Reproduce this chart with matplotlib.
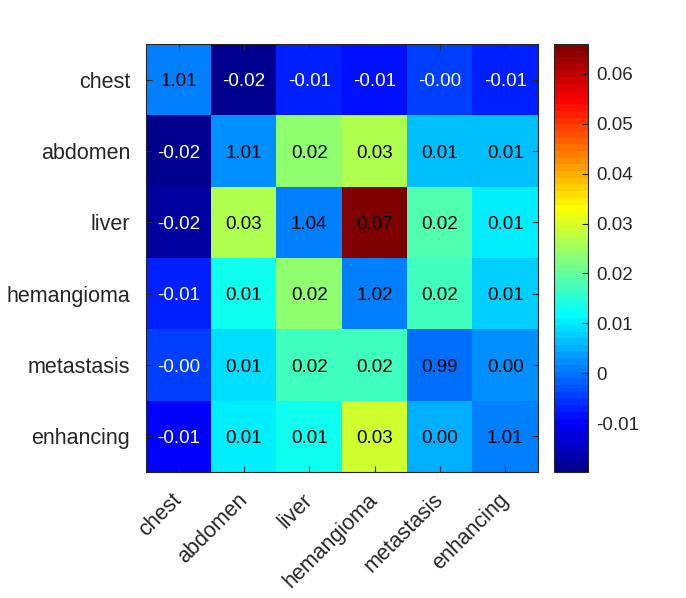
import numpy as np
import matplotlib.pyplot as plt
from matplotlib.colors import ListedColormap

plt.rcParams['font.family'] = ['Liberation Sans', 'DejaVu Sans']

classes = ['chest', 'abdomen', 'liver', 'hemangioma', 'metastasis', 'enhancing']

# numbers printed in the cells
labels = [
    ['1.01', '-0.02', '-0.01', '-0.01', '-0.00', '-0.01'],
    ['-0.02', '1.01', '0.02', '0.03', '0.01', '0.01'],
    ['-0.02', '0.03', '1.04', '0.07', '0.02', '0.01'],
    ['-0.01', '0.01', '0.02', '1.02', '0.02', '0.01'],
    ['-0.00', '0.01', '0.02', '0.02', '0.99', '0.00'],
    ['-0.01', '0.01', '0.01', '0.03', '0.00', '1.01'],
]

# values behind the cell colours
shade = np.array([
    [0.0010, -0.0198, -0.0077, -0.0085, -0.0050, -0.0064],
    [-0.0198, 0.0017, 0.0240, 0.0260, 0.0057, 0.0060],
    [-0.0180, 0.0270, 0.0005, 0.0660, 0.0190, 0.0110],
    [-0.0064, 0.0124, 0.0231, 0.0010, 0.0164, 0.0077],
    [-0.0050, 0.0085, 0.0177, 0.0177, -0.0007, 0.0017],
    [-0.0095, 0.0098, 0.0124, 0.0285, 0.0044, 0.0006],
])

cb_ticks = [-0.01, 0, 0.01, 0.02, 0.03, 0.04, 0.05, 0.06]


def matlab_jet(m=64):
    # same construction as MATLAB's jet(m)
    n = int(np.ceil(m / 4))
    u = np.concatenate([np.arange(1, n + 1) / n, np.ones(n - 1), np.arange(n, 0, -1) / n])
    g = int(np.ceil(n / 2)) - (1 if m % 4 == 1 else 0) + np.arange(1, len(u) + 1)
    r = g + n
    b = g - n
    g = g[g <= m]
    r = r[r <= m]
    b = b[b >= 1]
    J = np.zeros((m, 3))
    J[r - 1, 0] = u[:len(r)]
    J[g - 1, 1] = u[:len(g)]
    J[b - 1, 2] = u[len(u) - len(b):]
    return ListedColormap(J)


fig = plt.figure(figsize=(6.86, 5.98), dpi=100)
ax = fig.add_axes([146/686, 1 - 472/598, 392/686, 428/598])
cax = fig.add_axes([554/686, 1 - 472/598, 34/686, 428/598])

im = ax.imshow(shade, cmap=matlab_jet(64), vmin=-0.0198, vmax=0.066, aspect='auto')

for i in range(len(classes)):
    for j in range(len(classes)):
        col = 'white' if shade[i, j] < -0.003 else 'black'
        ax.text(j, i, labels[i][j], ha='center', va='center_baseline', fontsize=13.5, color=col)

ax.set_xticks(range(len(classes)))
ax.set_yticks(range(len(classes)))
ax.set_xticklabels(classes, rotation=45, ha='right', va='center', rotation_mode='anchor')
ax.set_yticklabels(classes)
ax.tick_params(direction='in', top=True, right=True, length=4, labelsize=15.5,
               colors='#262626', pad=11.5)
ax.tick_params(axis='x', pad=18)
for s in ax.spines.values():
    s.set_color('#262626')
    s.set_linewidth(0.8)

cb = fig.colorbar(im, cax=cax, ticks=cb_ticks)
cb.ax.set_yticklabels(['-0.01', '0', '0.01', '0.02', '0.03', '0.04', '0.05', '0.06'])
cb.ax.tick_params(direction='in', length=4, labelsize=13.5, colors='#262626', pad=6)
cb.outline.set_edgecolor('#262626')
cb.outline.set_linewidth(0.8)

plt.savefig('out.png', dpi=100)
